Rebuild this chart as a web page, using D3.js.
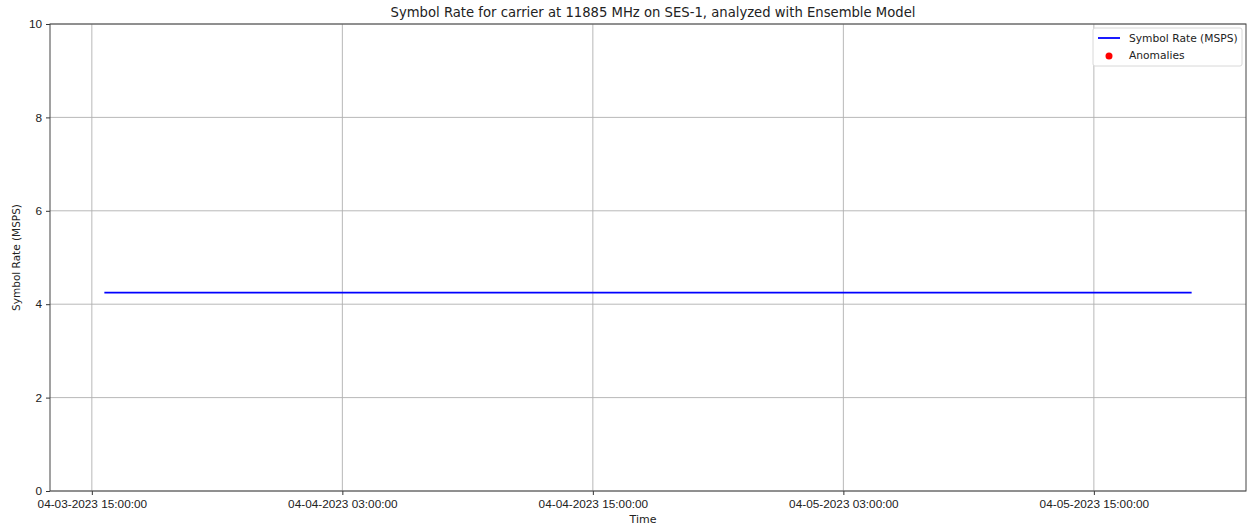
<!DOCTYPE html>
<html lang="en">
<head>
    <meta charset="UTF-8">
    <title>Symbol Rate for carrier at 11885 MHz on SES-1</title>
    <script src="https://d3js.org/d3.v7.min.js"></script>
    <style>
        body {
            margin: 0;
            background: #fff;
        }
        svg {
            display: block;
            font-family: "DejaVu Sans", sans-serif;
        }
        .tick text {
            font-size: 11.8px;
            fill: #222;
        }
        .grid line {
            stroke: #b0b0b0;
            stroke-width: 0.9;
        }
    </style>
</head>
<body>

<svg id="chart" width="1249" height="527"></svg>

<script>
    // data: a flat symbol rate, no anomalies
    const times = ["2023-04-03 15:36", "2023-04-04 03:00", "2023-04-04 15:00",
                   "2023-04-05 03:00", "2023-04-05 15:00", "2023-04-05 19:41"];
    const rates = [4.25, 4.25, 4.25, 4.25, 4.25, 4.25];
    const anomalies = [];
    const xTicks = ["2023-04-03 15:00", "2023-04-04 03:00", "2023-04-04 15:00",
                    "2023-04-05 03:00", "2023-04-05 15:00"];
    const yTicks = [0, 2, 4, 6, 8, 10];

    const parse = d3.timeParse("%Y-%m-%d %H:%M");
    const data = times.map((t, i) => ({ t: parse(t), v: rates[i] }));

    const width = 1249, height = 527;
    const margin = {top: 24, right: 3, bottom: 36, left: 50};
    const w = width - margin.left - margin.right;
    const h = height - margin.top - margin.bottom;

    // matplotlib-style 5% margin on the time axis
    const ext = d3.extent(data, d => d.t);
    const pad = (ext[1] - ext[0]) * 0.05;
    const x = d3.scaleTime()
        .domain([new Date(+ext[0] - pad), new Date(+ext[1] + pad)])
        .range([0, w]);
    const y = d3.scaleLinear().domain([0, 10]).range([h, 0]);

    const svg = d3.select("#chart");
    const g = svg.append("g").attr("transform", `translate(${margin.left},${margin.top})`);

    // grid
    g.append("g").attr("class", "grid")
        .selectAll("line").data(xTicks.map(parse)).join("line")
        .attr("x1", d => x(d)).attr("x2", d => x(d))
        .attr("y1", 0).attr("y2", h);
    g.append("g").attr("class", "grid")
        .selectAll("line").data(yTicks).join("line")
        .attr("x1", 0).attr("x2", w)
        .attr("y1", d => y(d)).attr("y2", d => y(d));

    // axes
    const xAxis = g.append("g")
        .attr("transform", `translate(0,${h})`)
        .call(d3.axisBottom(x)
            .tickValues(xTicks.map(parse))
            .tickFormat(d3.timeFormat("%m-%d-%Y %H:%M:%S"))
            .tickSizeOuter(0).tickSize(4).tickPadding(5));
    const yAxis = g.append("g")
        .call(d3.axisLeft(y).tickValues(yTicks).tickSizeOuter(0).tickSize(4).tickPadding(4));
    [xAxis, yAxis].forEach(a => {
        a.select(".domain").remove();
        a.selectAll(".tick line").attr("stroke", "#333");
    });

    // frame
    g.append("rect")
        .attr("width", w).attr("height", h)
        .attr("fill", "none").attr("stroke", "#444").attr("stroke-width", 1);

    // line
    g.append("path")
        .datum(data)
        .attr("fill", "none")
        .attr("stroke", "#0000ff")
        .attr("stroke-width", 1.8)
        .attr("d", d3.line().x(d => x(d.t)).y(d => y(d.v)));

    g.selectAll(".anom").data(anomalies).join("circle")
        .attr("cx", d => x(parse(d.t))).attr("cy", d => y(d.v))
        .attr("r", 4).attr("fill", "red");

    // titles
    svg.append("text")
        .attr("x", margin.left + w / 2 + 5).attr("y", 17)
        .attr("text-anchor", "middle")
        .attr("font-size", 13.2).attr("fill", "#222")
        .text("Symbol Rate for carrier at 11885 MHz on SES-1, analyzed with Ensemble Model");
    svg.append("text")
        .attr("x", margin.left + w / 2 - 5).attr("y", 523)
        .attr("text-anchor", "middle")
        .attr("font-size", 11).attr("fill", "#222")
        .text("Time");
    svg.append("text")
        .attr("transform", `translate(20,${margin.top + h / 2}) rotate(-90)`)
        .attr("text-anchor", "middle")
        .attr("font-size", 10.5).attr("fill", "#222")
        .text("Symbol Rate (MSPS)");

    // legend
    const lg = svg.append("g").attr("transform", "translate(1093,28)");
    lg.append("rect")
        .attr("width", 149).attr("height", 38).attr("rx", 2)
        .attr("fill", "#fff").attr("stroke", "#d8d8d8");
    lg.append("line")
        .attr("x1", 5).attr("x2", 27).attr("y1", 10).attr("y2", 10)
        .attr("stroke", "#0000ff").attr("stroke-width", 1.8);
    lg.append("text").attr("x", 36).attr("y", 14)
        .attr("font-size", 10.7).attr("fill", "#222").text("Symbol Rate (MSPS)");
    lg.append("circle").attr("cx", 16).attr("cy", 28).attr("r", 3.5).attr("fill", "red");
    lg.append("text").attr("x", 36).attr("y", 31)
        .attr("font-size", 10.7).attr("fill", "#222").text("Anomalies");
</script>

</body>
</html>
